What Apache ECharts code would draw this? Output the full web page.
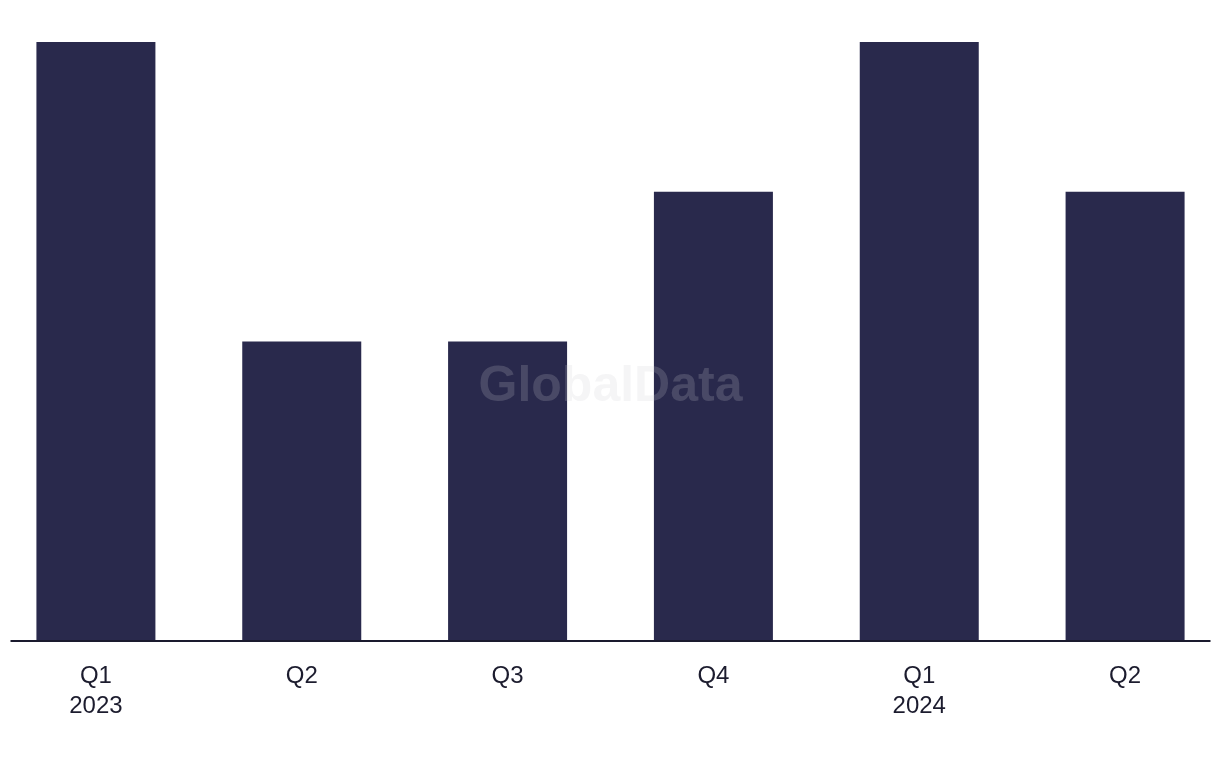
<!DOCTYPE html>
<html>
<head>
<meta charset="utf-8">
<script src="https://cdn.jsdelivr.net/npm/echarts@6/dist/echarts.min.js"></script>
<style>
html,body{margin:0;padding:0;background:#fff;overflow:hidden;}
#chart{position:absolute;left:-7.5px;top:0;width:1235px;height:768px;}
</style>
</head>
<body>
<div id="chart"></div>
<script>
const categories = ['Q1\n2023', 'Q2', 'Q3', 'Q4', 'Q1\n2024', 'Q2'];
const values = [4, 2, 2, 3, 4, 3];

const chart = echarts.init(document.getElementById('chart'), null, {renderer: 'canvas'});
chart.setOption({
  animation: false,
  backgroundColor: '#ffffff',
  grid: {left: 0, right: 0, top: 42, bottom: 127, containLabel: false},
  xAxis: {
    type: 'category',
    data: categories,
    axisLine: {show: false},
    axisTick: {show: false},
    axisLabel: {
      color: '#1c1c2e',
      fontSize: 24,
      fontFamily: 'Liberation Sans, Arial, sans-serif',
      lineHeight: 30,
      margin: 20,
      interval: 0
    }
  },
  yAxis: {
    type: 'value',
    min: 0,
    max: 4,
    show: false,
    splitLine: {show: false}
  },
  series: [{
    type: 'bar',
    data: values,
    barWidth: 119,
    itemStyle: {color: '#29294c'}
  }],
  graphic: [
    {
      type: 'line',
      shape: {x1: 17.5, y1: 641, x2: 1217.5, y2: 641},
      style: {stroke: '#1a1a2e', lineWidth: 2},
      z: 10
    },
    {
      type: 'text',
      left: 'center',
      top: 362,
      z: 20,
      style: {
        text: 'GlobalData',
        fontSize: 50,
        fontWeight: 'bold',
        fontFamily: 'Liberation Sans, Arial, sans-serif',
        fill: 'rgba(206,206,212,0.2)'
      }
    }
  ]
});
</script>
</body>
</html>
